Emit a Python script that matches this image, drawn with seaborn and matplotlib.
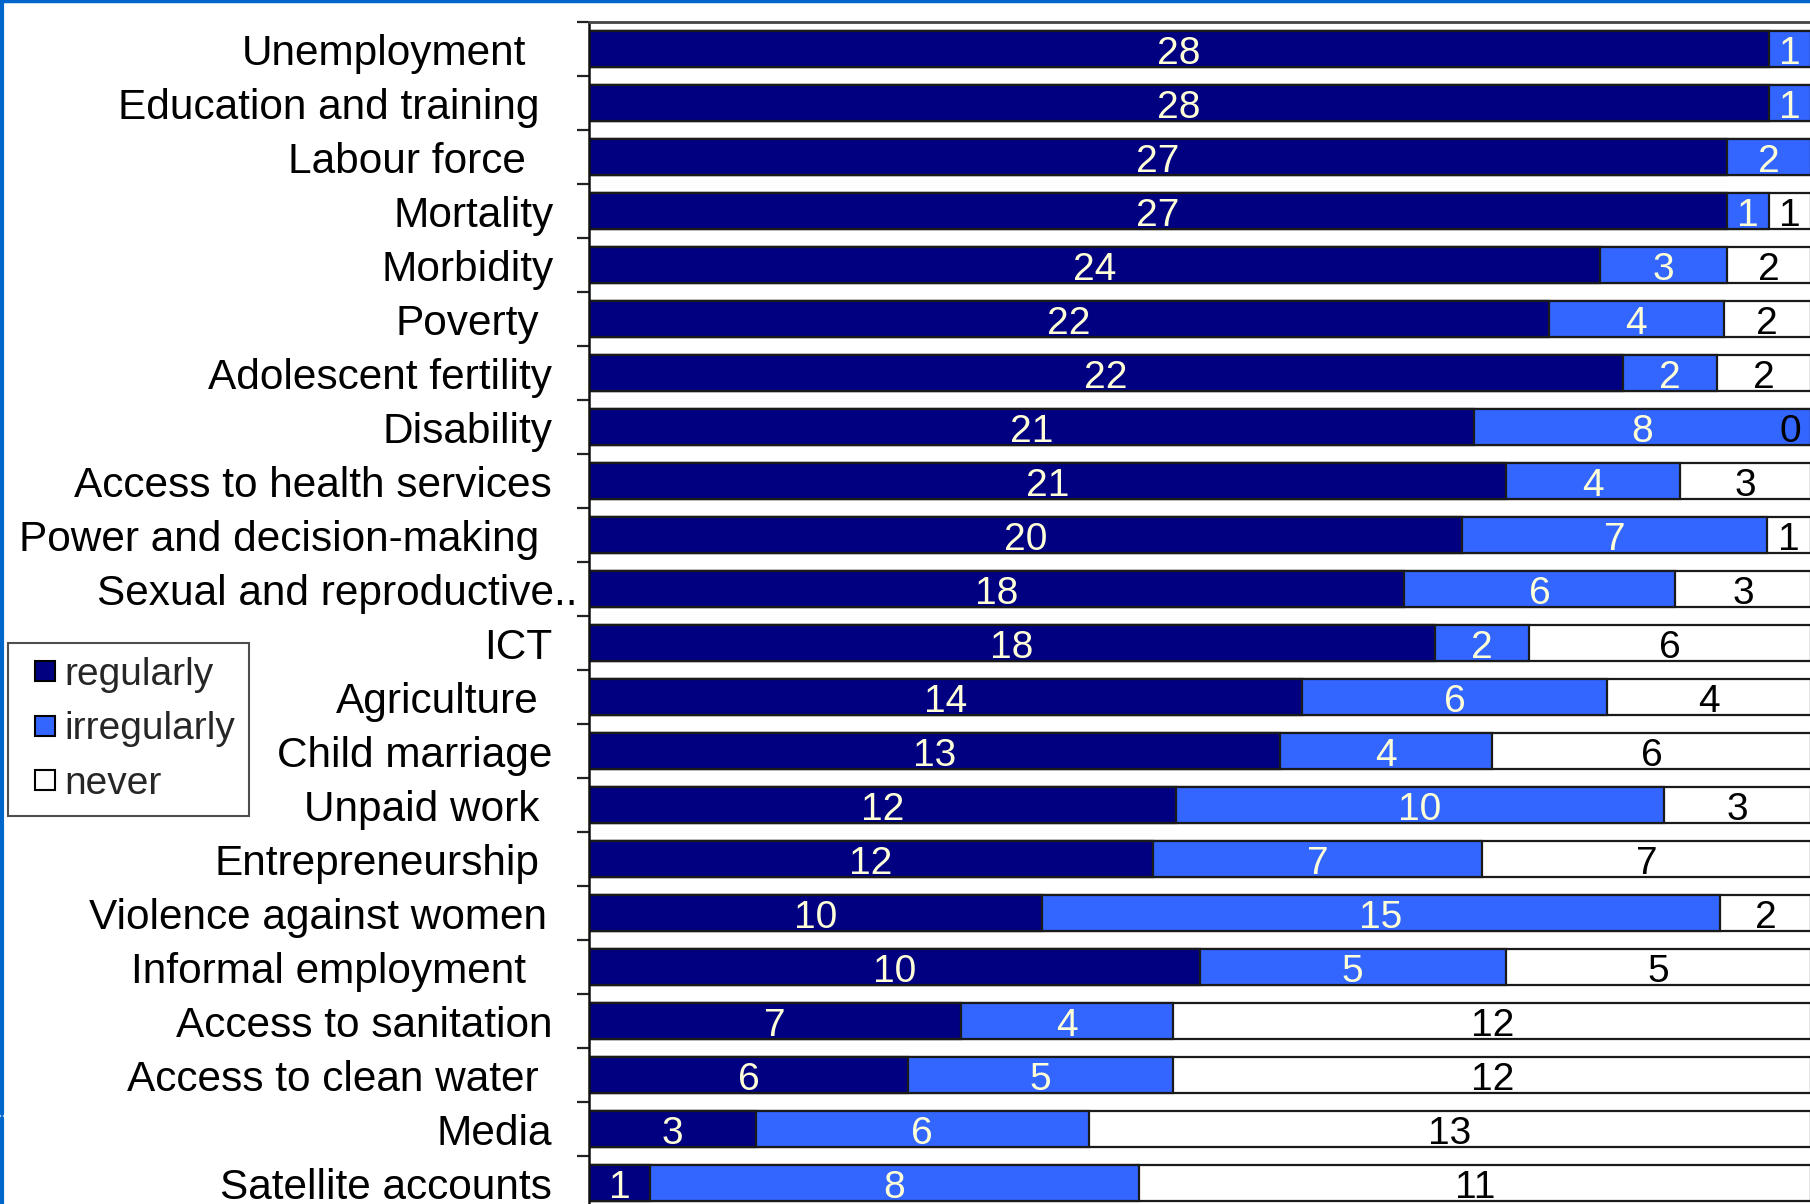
import numpy as np
import pandas as pd
import matplotlib
matplotlib.use("Agg")
import matplotlib.pyplot as plt
from matplotlib.lines import Line2D
from matplotlib import transforms
import seaborn as sns

# data (counts per topic)
topics = ["Unemployment", "Education and training", "Labour force", "Mortality",
          "Morbidity", "Poverty", "Adolescent fertility", "Disability",
          "Access to health services", "Power and decision-making",
          "Sexual and reproductive..", "ICT", "Agriculture", "Child marriage",
          "Unpaid work", "Entrepreneurship", "Violence against women",
          "Informal employment", "Access to sanitation", "Access to clean water",
          "Media", "Satellite accounts"]
regularly = [28, 28, 27, 27, 24, 22, 22, 21, 21, 20, 18, 18, 14, 13, 12, 12, 10, 10, 7, 6, 3, 1]
irregularly = [1, 1, 2, 1, 3, 4, 2, 8, 4, 7, 6, 2, 6, 4, 10, 7, 15, 5, 4, 5, 6, 8]
never = [np.nan, np.nan, np.nan, 1, 2, 2, 2, 0, 3, 1, 3, 6, 4, 6, 3, 7, 2, 5, 12, 12, 13, 11]

# label nudges (px) to mimic the uneven label alignment of the original
label_shift = [28, 15, 28, 0, 0, 15, 2, 2, 2, 15, -23, 2, 15, 2, 15, 15, 7, 28, 2, 15, 2, 2]

dark = "#000080"
light = "#3366FF"
num_col = "#FFFFD8"

sns.set_theme(style="white")
plt.rcParams["font.family"] = ["Liberation Sans", "DejaVu Sans"]

df = pd.DataFrame({"topic": topics, "regularly": regularly,
                   "irregularly": irregularly, "never": never})
nv = df["never"].fillna(0)
df["total"] = df["regularly"] + df["irregularly"] + nv
df["s_reg"] = df["regularly"] / df["total"]
df["s_irr"] = (df["regularly"] + df["irregularly"]) / df["total"]
df["s_all"] = 1.0

W, H = 1810, 1204
fig = plt.figure(figsize=(W / 100, H / 100), dpi=100)
ax = fig.add_axes([589 / W, -6 / H, 1222 / W, 1188 / H])

# overlapping bars give the stacked look
for col, c in [("s_all", "white"), ("s_irr", light), ("s_reg", dark)]:
    sns.barplot(data=df, x=col, y="topic", order=topics, color=c, saturation=1,
                width=0.667, edgecolor="#1a1a1a", linewidth=1.6, ax=ax)

ax.set_xlim(0, 1.0)
ax.set_ylim(len(topics) - 0.5, -0.5)
ax.set_xlabel("")
ax.set_ylabel("")
ax.set_xticks([])
ax.set_yticklabels([])
ax.tick_params(axis="y", which="major", length=0)
ax.set_yticks(np.arange(-0.5, len(topics), 1.0), minor=True)
ax.tick_params(axis="y", which="minor", length=9, width=1.6, color="#222222", left=True)
for s in ["right", "bottom"]:
    ax.spines[s].set_visible(False)
ax.spines["left"].set_color("#111111")
ax.spines["left"].set_linewidth(1.8)
ax.spines["top"].set_color("#444444")
ax.spines["top"].set_linewidth(2)

# category labels
for i, t in enumerate(topics):
    tr = transforms.offset_copy(ax.get_yaxis_transform(), fig=fig, x=-(35 + label_shift[i]), y=-5, units="dots")
    ax.text(0, i, t, transform=tr, ha="right", va="center", fontsize=30.5, color="black", clip_on=False)

# value labels
tr_num = transforms.offset_copy(ax.transData, fig=fig, x=0, y=-5, units="dots")
for i, row in df.iterrows():
    ax.text(row["s_reg"] / 2, i, str(int(row["regularly"])), ha="center", va="center",
            fontsize=28, color=num_col, transform=tr_num)
    ax.text((row["s_reg"] + row["s_irr"]) / 2, i, str(int(row["irregularly"])),
            ha="center", va="center", fontsize=28, color=num_col, transform=tr_num)
    if not np.isnan(row["never"]):
        xc = min((row["s_irr"] + 1.0) / 2, 0.983)
        ax.text(xc, i, str(int(row["never"])), ha="center", va="center",
                fontsize=28, color="black", transform=tr_num)

handles = [Line2D([], [], ls="none", marker="s", markersize=14, markerfacecolor=c,
                  markeredgecolor="black", markeredgewidth=1.5, label=l)
           for c, l in [(dark, "regularly"), (light, "irregularly"), ("white", "never")]]
leg = fig.legend(handles=handles, loc="upper left", bbox_to_anchor=(8 / W, 1 - 643 / H),
                 fontsize=28, frameon=True, fancybox=False, handlelength=1.2,
                 handletextpad=-0.1, labelspacing=0.48,
                 borderpad=0.35, borderaxespad=0)
leg.get_frame().set_edgecolor("#222222")
leg.get_frame().set_linewidth(1.5)

# slide frame lines
blue = "#0066CC"
fig.add_artist(Line2D([0, 1], [1 - 1 / H, 1 - 1 / H], color=blue, lw=2.5))
fig.add_artist(Line2D([1.5 / W, 1.5 / W], [1, 1 - 1114 / H], color=blue, lw=3))
fig.add_artist(Line2D([1.5 / W, 1.5 / W], [1 - 1118 / H, 0], color=blue, lw=3))

fig.savefig("out.png", dpi=100)
